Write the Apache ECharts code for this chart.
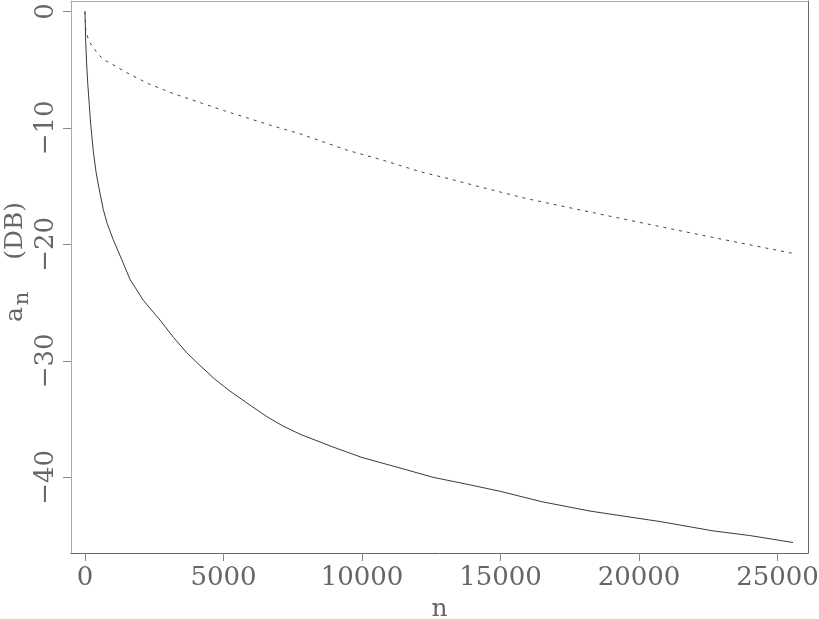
<!DOCTYPE html>
<html>
<head>
<meta charset="utf-8">
<script src="https://cdn.jsdelivr.net/npm/echarts@6/dist/echarts.min.js"></script>
<style>
html,body{margin:0;padding:0;background:#fff;}
#c{width:819px;height:619px;}
</style>
</head>
<body>
<div id="c"></div>
<script>
// ---- data ----
const nSolid = [0, 25, 60, 100, 155, 200, 300, 400, 500, 660, 800, 1020, 1325, 1625, 2105, 2708, 3200, 3671, 4152, 4700, 5235, 5957, 6570, 7150, 7762, 8953, 10000, 11372, 12563, 13800, 14982, 16500, 18231, 20758, 22671, 24000, 25560];
const vSolid = [0, -2.5, -4.5, -6.2, -8.0, -9.5, -12.0, -13.8, -15.1, -17.0, -18.2, -19.6, -21.3, -23.0, -24.8, -26.5, -28.0, -29.3, -30.4, -31.6, -32.6, -33.8, -34.8, -35.6, -36.3, -37.4, -38.3, -39.2, -40.0, -40.6, -41.2, -42.1, -42.9, -43.8, -44.6, -45.0, -45.6];
const nDotted = [0, 30, 155, 300, 480, 720, 960, 1500, 2290, 3130, 4250, 5000, 6740, 7760, 9450, 10800, 12090, 13200, 14320, 16000, 17990, 20000, 21840, 23500, 25510];
const vDotted = [0, -1.7, -2.6, -3.1, -3.7, -4.2, -4.5, -5.25, -6.2, -7.0, -7.9, -8.5, -9.8, -10.5, -11.9, -12.8, -13.75, -14.4, -15.1, -16.1, -17.1, -18.1, -19.0, -19.8, -20.75];
const xTicks = [0, 5000, 10000, 15000, 20000, 25000];
const yTicks = [0, -10, -20, -30, -40];

const pairs = (xs, ys) => xs.map((x, i) => [x, ys[i]]);
const FONT = 'DejaVu Serif';
const labelColor = '#666';

const chart = echarts.init(document.getElementById('c'), null, {renderer: 'canvas'});
chart.setOption({
  animation: false,
  backgroundColor: '#fff',
  grid: {left: 71, top: 1, right: 11, bottom: 66, containLabel: false, outerBoundsMode: 'none'},
  xAxis: [{
    type: 'value', min: -505, max: 26100, position: 'bottom',
    name: 'n', nameLocation: 'middle', nameGap: 44, nameMoveOverlap: false,
    nameTextStyle: {fontFamily: FONT, fontSize: 25, color: labelColor},
    axisLine: {show: true, onZero: false, lineStyle: {color: '#666', width: 1}},
    axisTick: {show: true, inside: false, length: 8, customValues: xTicks, lineStyle: {color: '#888'}},
    axisLabel: {show: true, margin: 12, customValues: xTicks, fontFamily: FONT, fontSize: 26, color: labelColor,
      formatter: v => String(v)},
    splitLine: {show: false}
  }, {
    type: 'value', min: -505, max: 26100, position: 'top',
    axisLine: {show: true, onZero: false, lineStyle: {color: '#aaa', width: 1}},
    axisTick: {show: false}, axisLabel: {show: false}, splitLine: {show: false}
  }],
  yAxis: [{
    type: 'value', min: -46.5, max: 0.9, position: 'left',
    name: '{a|a}{sub|n}{a|    (DB)}', nameLocation: 'middle', nameGap: 38, nameMoveOverlap: false,
    nameTextStyle: {
      fontFamily: FONT, fontSize: 25, color: labelColor, padding: [0, 0, 0, 30],
      rich: {
        a: {fontFamily: FONT, fontSize: 25, color: labelColor},
        sub: {fontFamily: FONT, fontSize: 21, color: labelColor, padding: [14, 0, 0, 2]}
      }
    },
    axisLine: {show: true, onZero: false, lineStyle: {color: '#aaa', width: 1}},
    axisTick: {show: true, inside: false, length: 8, customValues: yTicks, lineStyle: {color: '#888'}},
    axisLabel: {show: true, rotate: 90, margin: 12, customValues: yTicks, fontFamily: FONT, fontSize: 26, color: labelColor,
      formatter: v => (v < 0 ? '\u2212' + Math.abs(v) : String(v))},
    splitLine: {show: false}
  }, {
    type: 'value', min: -46.5, max: 0.9, position: 'right',
    axisLine: {show: true, onZero: false, lineStyle: {color: '#666', width: 1}},
    axisTick: {show: false}, axisLabel: {show: false}, splitLine: {show: false}
  }],
  series: [{
    type: 'line', data: pairs(nSolid, vSolid), showSymbol: false, symbol: 'none',
    lineStyle: {color: '#3a3a3a', width: 1}, smooth: false
  }, {
    type: 'line', data: pairs(nDotted, vDotted), showSymbol: false, symbol: 'none',
    lineStyle: {color: '#444', width: 1, type: [3, 5]}, smooth: false
  }]
});
</script>
</body>
</html>
